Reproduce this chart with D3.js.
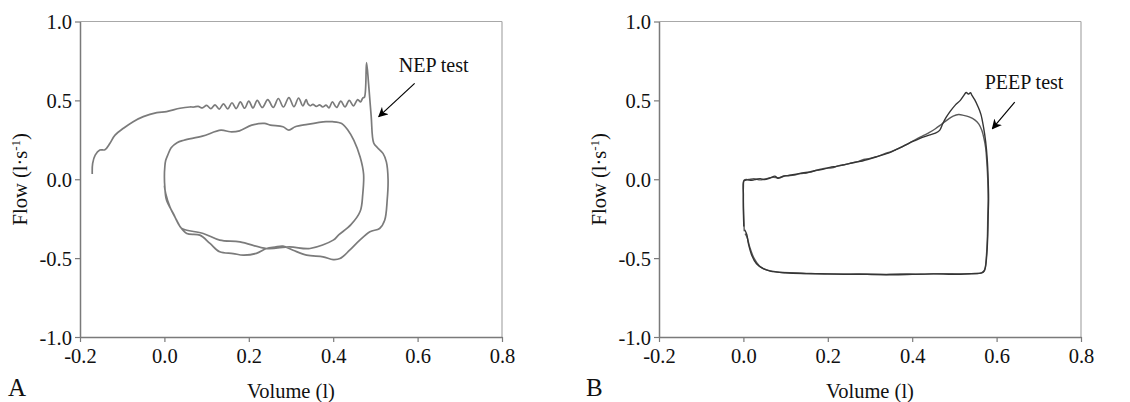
<!DOCTYPE html>
<html><head><meta charset="utf-8">
<script src="https://cdn.jsdelivr.net/npm/d3@7"></script>
<style>body{margin:0;background:#fff}svg{display:block}text{font-family:"Liberation Serif","Times New Roman",serif;fill:#111}</style>
</head><body><svg id="c" width="1130" height="402"></svg>
<script>
// ---- data ----
const xTicks = [-0.2, 0.0, 0.2, 0.4, 0.6, 0.8];
const yTicks = [-1.0, -0.5, 0.0, 0.5, 1.0];
const xLabel = "Volume (l)";
const panelLetters = ["A", "B"];
const annotations = ["NEP test", "PEEP test"];
// annotation anchors in data units: [text x, text y, arrow from x, from y, arrow to x, to y]
const annotA = [0.638, 0.683, 0.593, 0.608, 0.508, 0.397];
const annotB = [0.665, 0.574, 0.643, 0.489, 0.590, 0.321];

// Panel A: flow-volume trace with NEP test (volume l, flow l/s)
const nepTrace = [
[-0.171,0.033],[-0.170,0.10],[-0.164,0.153],[-0.153,0.185],[-0.141,0.187],[-0.129,0.228],[-0.117,0.28],[-0.097,0.323],[-0.074,0.365],[-0.05,0.397],[-0.018,0.422],[0.005,0.429],[0.037,0.45],[0.06,0.458],
[0.070,0.458],[0.080,0.462],[0.090,0.452],[0.100,0.468],[0.110,0.448],[0.120,0.472],[0.130,0.445],[0.140,0.478],[0.150,0.446],[0.160,0.485],[0.170,0.448],[0.180,0.490],[0.190,0.450],[0.200,0.495],[0.210,0.452],[0.220,0.500],[0.232,0.455],[0.245,0.505],[0.258,0.455],[0.270,0.512],[0.282,0.458],[0.295,0.518],[0.307,0.460],[0.318,0.515],[0.328,0.465],[0.336,0.505],[0.340,0.478],[0.345,0.466],[0.352,0.475],[0.360,0.462],[0.368,0.472],[0.375,0.458],[0.383,0.470],[0.390,0.452],[0.398,0.490],[0.408,0.455],[0.418,0.495],[0.428,0.458],[0.438,0.500],[0.448,0.465],[0.458,0.505],[0.465,0.490],[0.470,0.515],[0.474,0.52],
[0.479,0.74],[0.484,0.60],[0.490,0.40],[0.496,0.23],[0.505,0.20],[0.518,0.164],[0.526,0.11],[0.530,0.0],[0.528,-0.13],[0.522,-0.26],[0.510,-0.312],[0.487,-0.333],[0.463,-0.386],[0.439,-0.45],[0.416,-0.503],[0.400,-0.509],[0.376,-0.492],[0.337,-0.481],[0.305,-0.45],[0.281,-0.424],[0.262,-0.43],[0.242,-0.439],[0.218,-0.47],[0.187,-0.481],[0.163,-0.471],[0.131,-0.46],[0.108,-0.407],[0.084,-0.354],[0.053,-0.344],[0.037,-0.30],[0.021,-0.217],[0.005,-0.132],[0.001,-0.048],
[0.0,0.016],[0.001,0.079],[0.003,0.119],[0.009,0.16],[0.016,0.200],[0.03,0.232],[0.046,0.247],[0.09,0.273],[0.134,0.311],[0.156,0.301],[0.178,0.307],[0.207,0.343],[0.237,0.354],[0.251,0.343],[0.281,0.333],[0.295,0.311],[0.310,0.333],[0.339,0.348],[0.383,0.365],[0.398,0.365],[0.420,0.354],[0.435,0.311],[0.449,0.247],[0.464,0.140],[0.472,0.033],[0.470,-0.096],[0.464,-0.203],[0.442,-0.288],[0.413,-0.353],[0.400,-0.386],[0.345,-0.439],[0.297,-0.429],[0.242,-0.439],[0.179,-0.397],[0.131,-0.386],[0.092,-0.344],[0.053,-0.323],[0.040,-0.31],[0.029,-0.259],[0.013,-0.175],[0.003,-0.09],[0.0,-0.04]
];

// Panel B: PEEP test breath and control breath
const peepBreath = [
[0.001,-0.30],[0.0,-0.2],[0.0,-0.1],[0.001,-0.01],[0.008,-0.004],[0.02,-0.006],[0.031,0.0],[0.04,0.004],[0.05,-0.002],[0.063,0.008],[0.075,0.02],[0.082,0.006],[0.094,0.019],[0.11,0.025],[0.125,0.032],[0.14,0.04],[0.157,0.046],[0.175,0.058],[0.188,0.063],[0.205,0.075],[0.220,0.082],[0.235,0.09],[0.251,0.099],[0.265,0.108],[0.282,0.116],[0.298,0.128],[0.314,0.141],[0.33,0.155],[0.345,0.167],[0.36,0.185],[0.376,0.205],[0.392,0.228],[0.408,0.247],[0.424,0.265],[0.44,0.28],[0.455,0.292],[0.465,0.31],[0.472,0.35],[0.48,0.39],[0.49,0.43],[0.502,0.47],[0.514,0.50],[0.522,0.53],[0.528,0.55],[0.533,0.54],[0.538,0.548],[0.542,0.53],[0.548,0.505],[0.556,0.46],[0.563,0.41],[0.569,0.33],[0.574,0.24],[0.578,0.12],[0.58,0.0],[0.581,-0.12],[0.58,-0.24],[0.579,-0.36],[0.577,-0.47],[0.574,-0.55],[0.571,-0.58],[0.565,-0.593],[0.54,-0.598],[0.50,-0.603],[0.45,-0.600],[0.40,-0.603],[0.35,-0.605],[0.30,-0.602],[0.25,-0.603],[0.20,-0.600],[0.15,-0.598],[0.10,-0.593],[0.063,-0.582],[0.047,-0.567],[0.031,-0.536],[0.020,-0.483],[0.012,-0.41],[0.008,-0.35],[0.003,-0.32]
];
const controlBreath = [
[0.002,-0.33],[0.001,-0.25],[0.0,-0.15],[0.0,-0.05],[0.002,-0.005],[0.012,-0.002],[0.025,0.003],[0.04,-0.004],[0.055,0.004],[0.07,0.012],[0.085,0.01],[0.1,0.022],[0.12,0.026],[0.135,0.036],[0.15,0.04],[0.165,0.05],[0.18,0.062],[0.195,0.07],[0.21,0.072],[0.225,0.085],[0.24,0.092],[0.255,0.102],[0.27,0.11],[0.285,0.125],[0.3,0.132],[0.318,0.145],[0.335,0.162],[0.35,0.175],[0.365,0.192],[0.38,0.212],[0.395,0.232],[0.41,0.255],[0.425,0.275],[0.44,0.295],[0.455,0.32],[0.47,0.35],[0.485,0.38],[0.497,0.40],[0.51,0.41],[0.522,0.405],[0.535,0.395],[0.549,0.375],[0.558,0.35],[0.565,0.31],[0.57,0.26],[0.574,0.2],[0.577,0.1],[0.579,0.0],[0.58,-0.12],[0.579,-0.25],[0.578,-0.38],[0.576,-0.48],[0.573,-0.56],[0.569,-0.585],[0.562,-0.595],[0.52,-0.60],[0.47,-0.598],[0.42,-0.602],[0.37,-0.60],[0.32,-0.604],[0.27,-0.600],[0.22,-0.601],[0.17,-0.598],[0.12,-0.594],[0.08,-0.588],[0.055,-0.575],[0.038,-0.55],[0.025,-0.5],[0.015,-0.43],[0.009,-0.37],[0.004,-0.345]
];

// ---- drawing ----
const svg = d3.select("#c");
const defs = svg.append("defs");
defs.append("marker").attr("id","arr").attr("viewBox","0 0 10 10").attr("refX",9).attr("refY",5)
  .attr("markerWidth",10).attr("markerHeight",10).attr("markerUnits","userSpaceOnUse").attr("orient","auto")
  .append("path").attr("d","M0,0 L10,5 L0,10 L3,5 Z").attr("fill","#000");

const layout = [
  {left:80, right:502, top:21.5, bottom:337, letterX:8, flowX:27},
  {left:659, right:1081, top:21.5, bottom:337, letterX:586, flowX:606}
];
const series = [
  [{d:nepTrace, c:"#7b7b7b", w:1.7}],
  [{d:controlBreath, c:"#5a5a5a", w:1.4},{d:peepBreath, c:"#353535", w:1.4}]
];
const annots = [annotA, annotB];
const FS = 20.5;

layout.forEach((L,i)=>{
  const x = d3.scaleLinear().domain([-0.2,0.8]).range([L.left,L.right]);
  const y = d3.scaleLinear().domain([-1,1]).range([L.bottom,L.top]);
  const g = svg.append("g");
  g.append("line").attr("x1",L.left).attr("x2",L.right).attr("y1",L.top).attr("y2",L.top).attr("stroke","#a8a8a8").attr("stroke-width",1.2);
  g.append("line").attr("x1",L.right).attr("x2",L.right).attr("y1",L.top).attr("y2",L.bottom).attr("stroke","#a8a8a8").attr("stroke-width",1.2);
  const xa = g.append("g").attr("transform",`translate(0,${L.bottom})`)
    .call(d3.axisBottom(x).tickValues(xTicks).tickSize(5).tickSizeOuter(0).tickFormat(d3.format(".1f")));
  const ya = g.append("g").attr("transform",`translate(${L.left},0)`)
    .call(d3.axisLeft(y).tickValues(yTicks).tickSize(5).tickSizeOuter(0).tickFormat(d3.format(".1f")));
  [xa,ya].forEach(a=>{
    a.select(".domain").attr("stroke","#7a7a7a").attr("stroke-width",1.5);
    a.selectAll(".tick line").attr("stroke","#7a7a7a").attr("stroke-width",1.2);
    a.selectAll(".tick text").attr("font-size",FS).attr("font-family","Liberation Serif").attr("fill","#111")
     .text(d=>d3.format(".1f")(d).replace("−","-"));
  });
  xa.selectAll(".tick text").attr("dy","0").attr("y",26);
  ya.selectAll(".tick text").attr("x",-8).attr("dy","0.35em");
  const line = d3.line().curve(d3.curveCatmullRom.alpha(0.5)).x(d=>x(d[0])).y(d=>y(d[1]));
  series[i].forEach(s=>{
    g.append("path").datum(s.d).attr("d",line).attr("fill","none").attr("stroke",s.c)
     .attr("stroke-width",s.w).attr("stroke-linejoin","round");
  });
  const a = annots[i];
  g.append("text").attr("x",x(a[0])).attr("y",y(a[1])).attr("text-anchor","middle").attr("font-size",20).text(annotations[i]);
  g.append("line").attr("x1",x(a[2])).attr("y1",y(a[3])).attr("x2",x(a[4])).attr("y2",y(a[5]))
   .attr("stroke","#000").attr("stroke-width",1.2).attr("marker-end","url(#arr)");
  g.append("text").attr("x",(L.left+L.right)/2).attr("y",398).attr("text-anchor","middle").attr("font-size",FS).text(xLabel);
  g.append("text").attr("x",L.letterX).attr("y",396).attr("font-size",25).text(panelLetters[i]);
  const fl = g.append("text").attr("transform",`translate(${L.flowX},${(L.top+L.bottom)/2}) rotate(-90)`)
    .attr("text-anchor","middle").attr("font-size",FS);
  fl.append("tspan").text("Flow (l·s");
  fl.append("tspan").attr("dy",-7).attr("font-size",13).text("-1");
  fl.append("tspan").attr("dy",7).text(")");
});
</script></body></html>
